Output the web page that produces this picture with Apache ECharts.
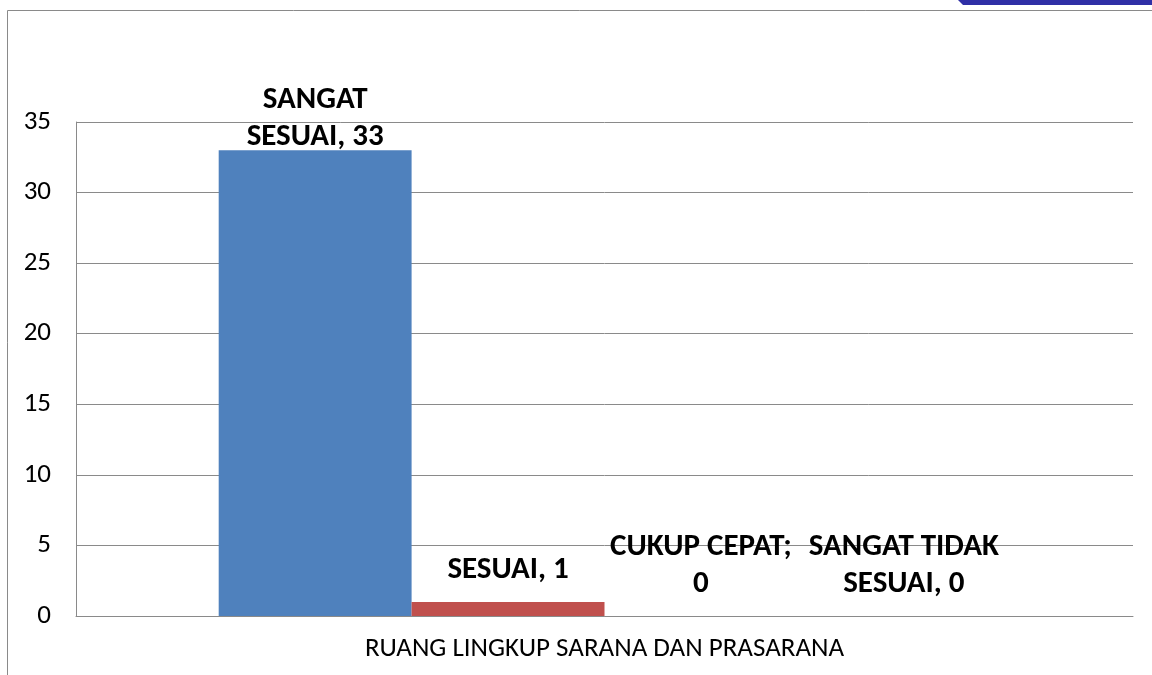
<!DOCTYPE html>
<html>
<head>
<meta charset="utf-8">
<script src="https://cdn.jsdelivr.net/npm/echarts@6/dist/echarts.min.js"></script>
<style>
  html, body { margin: 0; padding: 0; background: #fff; }
  #chart { width: 1152px; height: 675px; }
</style>
</head>
<body>
<div id="chart"></div>
<script>
const categories = ["RUANG LINGKUP SARANA DAN PRASARANA"];
const seriesNames = ["SANGAT SESUAI", "SESUAI", "CUKUP CEPAT", "SANGAT TIDAK SESUAI"];
const seriesValues = [33, 1, 0, 0];
const labelTexts = ["SANGAT\nSESUAI, 33", "SESUAI, 1", "CUKUP CEPAT;\n0", "SANGAT TIDAK\nSESUAI, 0"];
const seriesColors = ["#4F81BD", "#C0504D", "#9BBB59", "#8064A2"];
const yTicks = { min: 0, max: 35, interval: 5 };

const FONT = 'Carlito, "Liberation Sans", Arial, sans-serif';
const labelDistance = [-6, 13, 13, 13];
const labelOffsetX = [0, 0, 0, 10];

const chart = echarts.init(document.getElementById('chart'), null, { renderer: 'canvas' });

const series = seriesNames.map((name, i) => ({
  name: name,
  type: 'bar',
  data: [seriesValues[i]],
  barGap: '0%',
  barCategoryGap: '27%',
  itemStyle: { color: seriesColors[i] },
  label: {
    show: true,
    position: 'top',
    distance: labelDistance[i],
    offset: [labelOffsetX[i], 0],
    formatter: () => labelTexts[i],
    fontFamily: FONT,
    fontWeight: 'bold',
    fontSize: 31,
    lineHeight: 37,
    color: '#000',
    align: 'center'
  },
  silent: true
}));

chart.setOption({
  animation: false,
  backgroundColor: '#fff',
  grid: { left: 76, right: 19, top: 122, bottom: 59, containLabel: false },
  xAxis: {
    type: 'category',
    data: categories,
    axisLine: { show: true, lineStyle: { color: '#8a8a8a', width: 1 } },
    axisTick: { show: false },
    axisLabel: { color: '#000', fontFamily: FONT, fontSize: 27, margin: 20 }
  },
  yAxis: {
    type: 'value',
    min: yTicks.min,
    max: yTicks.max,
    interval: yTicks.interval,
    axisLine: { show: true, lineStyle: { color: '#8a8a8a', width: 1 } },
    axisTick: { show: false },
    axisLabel: { color: '#000', fontFamily: FONT, fontSize: 27, margin: 25 },
    splitLine: { show: true, lineStyle: { color: '#8a8a8a', width: 1 } }
  },
  series: series,
  graphic: [
    { type: 'line', shape: { x1: 7.5, y1: 10.5, x2: 1152, y2: 10.5 }, style: { stroke: '#8a8a8a', lineWidth: 1 } },
    { type: 'line', shape: { x1: 7.5, y1: 10.5, x2: 7.5, y2: 675 }, style: { stroke: '#8a8a8a', lineWidth: 1 } },
    { type: 'polygon', shape: { points: [[958, 0], [1152, 0], [1152, 5], [963, 5]] }, style: { fill: '#2F2FA6' } }
  ]
});
</script>
</body>
</html>
